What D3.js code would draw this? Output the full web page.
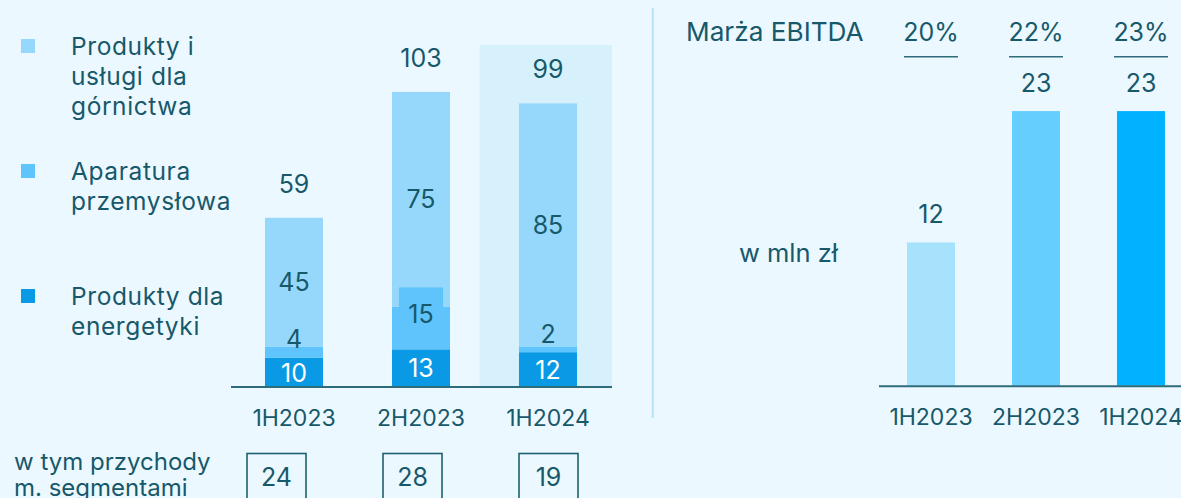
<!DOCTYPE html>
<html>
<head>
<meta charset="utf-8">
<script src="https://cdn.jsdelivr.net/npm/d3@7"></script>
<style>
  html, body { margin: 0; padding: 0; background: #ecf8ff; }
  svg { display: block; font-family: "Inter", "DejaVu Sans", sans-serif; }
  .txt { fill: #17596a; }
  .axis .domain { stroke: #2f6c7b; stroke-width: 2; }
  .axis text { fill: #17596a; font-size: 23px; font-family: "Inter", sans-serif; }
</style>
</head>
<body>
<svg id="chart" width="1181" height="498"></svg>
<script>
// ---- data ----
const periods = ["1H2023", "2H2023", "1H2024"];
const energetyka = [10, 13, 12];        // Produkty dla energetyki
const aparatura = [4, 15, 2];           // Aparatura przemysłowa
const gornictwo = [45, 75, 85];         // Produkty i usługi dla górnictwa
const totals = [59, 103, 99];
const segmentRevenue = [24, 28, 19];    // w tym przychody m. segmentami
const ebitda = [12, 23, 23];
const ebitdaMargin = ["20%", "22%", "23%"];
const legendLabels = [
  ["Produkty i", "usługi dla", "górnictwa"],
  ["Aparatura", "przemysłowa"],
  ["Produkty dla", "energetyki"]
];

const seriesColors = ["#95d8fc", "#5fc4fb", "#0a99e5"]; // górnictwo, aparatura, energetyka
const ebitdaColors = ["#a7e2fd", "#66cdff", "#00b2ff"];
const textColor = "#17596a";

const svg = d3.select("#chart");
const W = 1181, H = 498;

svg.append("rect").attr("width", W).attr("height", H).attr("fill", "#ecf8ff");

// ---------- Left: revenue stacked bars ----------
const x = d3.scaleBand().domain(periods)
  .range([230.5, 611.5]).paddingInner(0.543).paddingOuter(0.2715);
const y = d3.scaleLinear().domain([0, 120]).range([386.5, 43.3]);

// highlight behind latest period
const last = periods[periods.length - 1];
svg.append("rect")
  .attr("x", x(last) - (x.step() - x.bandwidth()) / 2 - 5)
  .attr("y", 45)
  .attr("width", x.step() + 5.5)
  .attr("height", y(0) - 45)
  .attr("fill", "#d6f1fc");

const rows = periods.map((p, i) => ({ period: p, energetyka: energetyka[i], aparatura: aparatura[i], gornictwo: gornictwo[i] }));
const keys = ["energetyka", "aparatura", "gornictwo"];
const stack = d3.stack().keys(keys)(rows);
const colorOf = { gornictwo: seriesColors[0], aparatura: seriesColors[1], energetyka: seriesColors[2] };

const gBars = svg.append("g");
stack.forEach(layer => {
  gBars.selectAll(null).data(layer).join("rect")
    .attr("x", d => x(d.data.period))
    .attr("y", d => y(d[1]))
    .attr("width", x.bandwidth())
    .attr("height", d => y(d[0]) - y(d[1]))
    .attr("fill", colorOf[layer.key]);
});

// segment labels
const fs = 25;
stack.forEach(layer => {
  layer.forEach(d => {
    const v = d.data[layer.key];
    const cx = x(d.data.period) + x.bandwidth() / 2;
    let yb, fill = textColor;
    if (layer.key === "energetyka") {
      yb = (y(d[0]) + y(d[1])) / 2 + 9.5; fill = "#ffffff";
    } else if (layer.key === "aparatura") {
      if (v < 5) {
        yb = y(d[1]) + (v < 3 ? -3 : 1.5);
      } else {
        yb = y(d[1]) + 17;
        // label background box sticking out above the segment
        gBars.append("rect")
          .attr("x", x(d.data.period) + 7).attr("width", x.bandwidth() - 14)
          .attr("y", yb - 36).attr("height", 20)
          .attr("fill", colorOf.aparatura);
      }
    } else {
      yb = (y(d[0]) + y(d[1])) / 2 + 9;
    }
    svg.append("text").attr("class", fill === textColor ? "txt" : null)
      .attr("x", cx).attr("y", yb)
      .attr("text-anchor", "middle").attr("font-size", fs)
      .attr("fill", fill).text(v);
  });
});

// totals
svg.selectAll(null).data(periods).join("text")
  .attr("class", "txt")
  .attr("x", p => x(p) + x.bandwidth() / 2)
  .attr("y", (p, i) => y(totals[i]) - 25)
  .attr("text-anchor", "middle").attr("font-size", fs)
  .text((p, i) => totals[i]);

// axis
const axL = svg.append("g").attr("class", "axis")
  .attr("transform", `translate(0,${y(0)})`)
  .call(d3.axisBottom(x).tickSize(0).tickSizeOuter(0));
axL.selectAll(".tick text").attr("dy", null).attr("y", 39);

// legend
const legendTop = [39, 164, 289];
legendLabels.forEach((lines, i) => {
  svg.append("rect").attr("x", 21).attr("y", legendTop[i])
    .attr("width", 14).attr("height", 14).attr("fill", seriesColors[i]);
  const t = svg.append("text").attr("class", "txt")
    .attr("x", 71).attr("y", legendTop[i] + 16)
    .attr("font-size", 24.5).attr("letter-spacing", 0.6);
  lines.forEach((ln, j) => t.append("tspan").attr("x", 71).attr("dy", j === 0 ? 0 : 29.8).text(ln));
});

// "w tym przychody m. segmentami" row
const xb = d3.scalePoint().domain(periods).range([276.5, 548.5]);
const note = svg.append("text").attr("class", "txt").attr("x", 14).attr("y", 470).attr("font-size", 24);
note.append("tspan").attr("x", 14).text("w tym przychody");
note.append("tspan").attr("x", 14).attr("dy", 25.5).text("m. segmentami");

const boxW = 59;
svg.selectAll(null).data(periods).join("rect")
  .attr("x", p => xb(p) - boxW / 2).attr("y", 453.5)
  .attr("width", boxW).attr("height", 60)
  .attr("fill", "none").attr("stroke", "#1f6070").attr("stroke-width", 1.6);
svg.selectAll(null).data(periods).join("text")
  .attr("class", "txt")
  .attr("x", p => xb(p)).attr("y", 486)
  .attr("text-anchor", "middle").attr("font-size", fs)
  .text((p, i) => segmentRevenue[i]);

// divider
svg.append("line").attr("x1", 652.7).attr("x2", 652.7).attr("y1", 8).attr("y2", 418)
  .attr("stroke", "#b5e4fa").attr("stroke-width", 2);

// ---------- Right: EBITDA ----------
const x2 = d3.scaleBand().domain(periods)
  .range([878.5, 1193.5]).paddingInner(0.543).paddingOuter(0.2715);
const y2 = d3.scaleLinear().domain([0, 25]).range([385.7, 87.2]);

svg.selectAll(null).data(periods).join("rect")
  .attr("x", p => x2(p))
  .attr("y", (p, i) => y2(ebitda[i]))
  .attr("width", x2.bandwidth())
  .attr("height", (p, i) => y2(0) - y2(ebitda[i]))
  .attr("fill", (p, i) => ebitdaColors[i]);

svg.selectAll(null).data(periods).join("text")
  .attr("class", "txt")
  .attr("x", p => x2(p) + x2.bandwidth() / 2)
  .attr("y", (p, i) => y2(ebitda[i]) - 19)
  .attr("text-anchor", "middle").attr("font-size", fs)
  .text((p, i) => ebitda[i]);

const axR = svg.append("g").attr("class", "axis")
  .attr("transform", `translate(0,${y2(0)})`)
  .call(d3.axisBottom(x2).tickSize(0).tickSizeOuter(0));
axR.selectAll(".tick text").attr("dy", null).attr("y", 39);

// margin row
svg.append("text").attr("class", "txt").attr("x", 686).attr("y", 40.7)
  .attr("font-size", 26.2).text("Marża EBITDA");
svg.selectAll(null).data(periods).join("text")
  .attr("class", "txt")
  .attr("x", p => x2(p) + x2.bandwidth() / 2)
  .attr("y", 40.7)
  .attr("text-anchor", "middle").attr("font-size", fs)
  .text((p, i) => ebitdaMargin[i]);
svg.selectAll(null).data(periods).join("line")
  .attr("x1", p => x2(p) + x2.bandwidth() / 2 - 27)
  .attr("x2", p => x2(p) + x2.bandwidth() / 2 + 27)
  .attr("y1", 56.7).attr("y2", 56.7)
  .attr("stroke", "#2f6c7b").attr("stroke-width", 1.5);

svg.append("text").attr("class", "txt").attr("x", 838).attr("y", 261.7)
  .attr("text-anchor", "end").attr("font-size", 25.5).text("w mln zł");
</script>
</body>
</html>
